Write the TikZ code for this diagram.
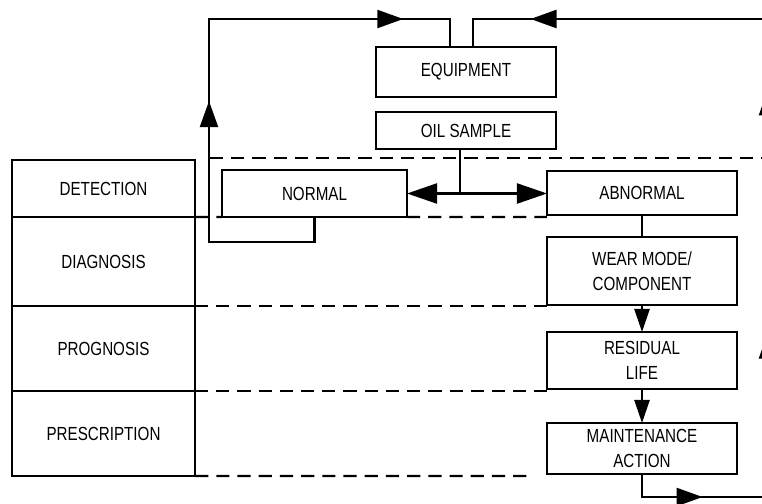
\documentclass[tikz,border=0pt]{standalone}
\usepackage{fontspec}
\setmainfont{Liberation Sans}
\newfontfamily\narrowfont[FakeStretch=0.8]{Liberation Sans}
\usetikzlibrary{arrows.meta,decorations.markings}

\tikzset{
    blk/.style={draw, line width=1.6pt, minimum width=4.75cm, inner sep=0pt, outer sep=0pt, align=center, font=\narrowfont\fontsize{13.5}{18}\selectfont},
    cell/.style={draw, line width=1.6pt, minimum width=4.575cm, inner sep=0pt, outer sep=0pt, anchor=north west, font=\narrowfont\fontsize{13.5}{18}\selectfont},
    flow/.style={line width=1.6pt},
    lvl/.style={line width=1.6pt, dash pattern=on 0.33cm off 0.2cm},
    bigtip/.tip={Triangle[length=0.65cm, width=0.45cm]},
    duotip/.tip={Triangle[length=0.75cm, width=0.5cm]},
    smalltip/.tip={Triangle[length=0.58cm, width=0.38cm]},
}

\begin{document}
\begin{tikzpicture}[x=0.025cm, y=-0.025cm]
        \useasboundingbox[clip] (0,0) rectangle (762,504);
        % left column
        \node[cell, minimum height=1.425cm] (det) at (12,160) {DETECTION};
        \node[cell, minimum height=2.225cm] (diag) at (det.south west) {DIAGNOSIS};
        \node[cell, minimum height=2.125cm] (prog) at (diag.south west) {PROGNOSIS};
        \node[cell, minimum height=2.125cm] (presc) at (prog.south west) {PRESCRIPTION};
        % blocks
        \node[blk, minimum width=4.5cm, minimum height=1.25cm] (equip) at (466,72) {EQUIPMENT};
        \node[blk, minimum width=4.5cm, minimum height=0.925cm] (oil) at (466,130.5) {OIL SAMPLE};
        \node[blk, minimum width=4.625cm, minimum height=1.175cm] (normal) at (314.5,193.5) {NORMAL};
        \node[blk, minimum height=1.1cm] (abnormal) at (642,193) {ABNORMAL};
        \node[blk, minimum height=1.7cm] (wear) at (642,271) {WEAR MODE/\\COMPONENT};
        \node[blk, minimum height=1.425cm] (resid) at (642,360.5) {RESIDUAL\\LIFE};
        \node[blk, minimum height=1.275cm] (maint) at (642,448.5) {MAINTENANCE\\ACTION};
        % corners of the loops
        \coordinate (nl) at (209,242);
        \coordinate (tl) at (209,19);
        \coordinate (br) at (768,497);
        \coordinate (tr) at (768,19);
        % dashed level lines
        \draw[lvl] (210,158) -- (770,158);
        \draw[lvl] (det.south east) -- (normal.south west);
        \draw[lvl] (normal.south east) -- (abnormal.west |- det.south);
        \draw[lvl] (diag.south east) -- (abnormal.west |- diag.south);
        \draw[lvl] (prog.south east) -- (abnormal.west |- prog.south);
        \draw[lvl] (presc.south east) -- (530,476);
        % sample split
        \draw[flow] ([xshift=-0.15cm]oil.south) -- ([xshift=-0.15cm]oil.south |- normal.east);
        \draw[flow, duotip-duotip] (normal.east) -- (normal.east -| abnormal.west);
        % abnormal chain
        \draw[flow] (abnormal.south) -- (wear.north);
        \draw[flow, -smalltip] (wear.south) -- (resid.north);
        \draw[flow, -smalltip] (resid.south) -- (maint.north);
        % normal loop back to equipment
        \draw[flow, postaction={decorate}, decoration={markings,
                mark=at position 0.436 with {\arrow{bigtip}},
                mark=at position 0.88 with {\arrow{bigtip}}}]
            (normal.south) |- (nl) -- (tl) -| ([xshift=-0.4cm]equip.north);
        % action loop back to equipment
        \draw[flow, postaction={decorate}, decoration={markings,
                mark=at position 0.088 with {\arrow{bigtip}},
                mark=at position 0.33 with {\arrow{bigtip}},
                mark=at position 0.586 with {\arrow{bigtip}},
                mark=at position 0.91 with {\arrow{bigtip}}}]
            (maint.south) |- (br) -- (tr) -| ([xshift=0.175cm]equip.north);
\end{tikzpicture}
\end{document}
